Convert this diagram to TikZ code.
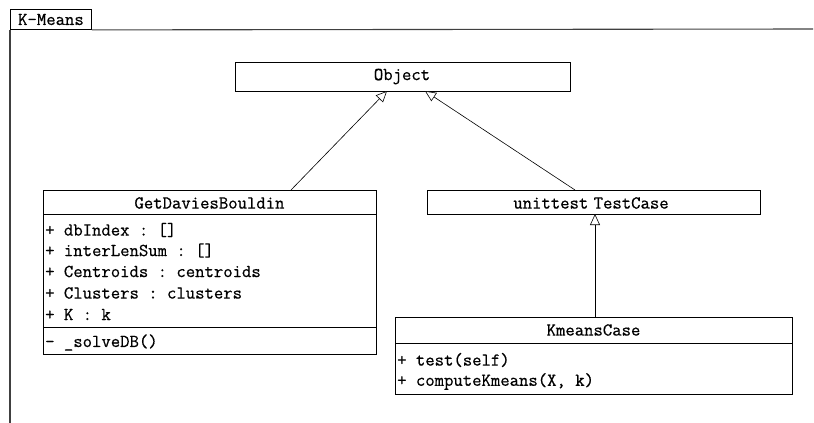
\documentclass[tikz,border=0pt]{standalone}
\usepackage{fontspec}
\setmonofont{Latin Modern Mono}[FakeBold=0.6]
\usetikzlibrary{arrows.meta}
\begin{document}
\begin{tikzpicture}[x=1pt,y=-1pt,
  txt/.style={font=\ttfamily\fontsize{18.2}{21}\selectfont, inner sep=0pt},
  box/.style={draw=black, line width=0.9pt, anchor=north west, inner sep=0pt},
  sep/.style={draw=black, line width=0.9pt},
  frameline/.style={draw=black!75, line width=1.1pt},
  inh/.style={draw=black, line width=0.6pt, -{Triangle[open, length=11pt, width=10pt, fill=white]}}]
\useasboundingbox (0,0) rectangle (814,423);
% frame
\node[box, minimum width=81pt, minimum height=20pt] (tab) at (10,9) {};
\node[txt] (tabtxt) at (tab.center) {K-Means};
\coordinate (fr) at (813,29);
\coordinate (fb) at (10,423);
\draw[frameline] (fr) -- (tab.south east);
\draw[frameline] (tab.south west) -- (fb);
% Object
\node[box, minimum width=335pt, minimum height=29pt] (obj) at (235,62) {};
\node[txt] (objtxt) at (402,76.5) {Object};
% GetDaviesBouldin
\node[box, minimum width=333pt, minimum height=164pt] (gdb) at (43,190) {};
\node[txt] (gdbtxt) at (209.5,203) {GetDaviesBouldin};
\coordinate (g1) at (43,214); \coordinate (g2) at (376,214);
\coordinate (g3) at (43,327); \coordinate (g4) at (376,327);
\draw[sep] (g1) -- (g2);
\draw[sep] (g3) -- (g4);
\node[txt, anchor=west] (a1) at (45,230) {+ dbIndex : []};
\node[txt, anchor=west] (a2) at (45,250.5) {+ interLenSum : []};
\node[txt, anchor=west] (a3) at (45,271.5) {+ Centroids : centroids};
\node[txt, anchor=west] (a4) at (45,293) {+ Clusters : clusters};
\node[txt, anchor=west] (a5) at (45,314.5) {+ K : k};
\node[txt, anchor=west] (m1) at (45,342.5) {- \_solveDB()};
% TestCase
\node[box, minimum width=333pt, minimum height=24pt] (tc) at (427,190) {};
\node[txt] (tctxt) at (591,203) {unittest\kern-4pt{} TestCase};
% KmeansCase
\node[box, minimum width=397pt, minimum height=77pt] (kc) at (395,317) {};
\node[txt] (kctxt) at (593.5,330) {KmeansCase};
\coordinate (k1) at (395,343); \coordinate (k2) at (792,343);
\draw[sep] (k1) -- (k2);
\node[txt, anchor=west] (b1) at (397,360) {+ test(self)};
\node[txt, anchor=west] (b2) at (397,381.5) {+ computeKmeans(X, k)};
% connectors
\coordinate (gdbtop) at (291,190);
\coordinate (objL) at (387,91);
\coordinate (tctop) at (575,190);
\coordinate (objR) at (425,91);
\coordinate (kctop) at (595,317);
\coordinate (tcbot) at (595,214);
\draw[inh] (gdbtop) -- (objL);
\draw[inh] (tctop) -- (objR);
\draw[inh] (kctop) -- (tcbot);
\end{tikzpicture}
\end{document}
